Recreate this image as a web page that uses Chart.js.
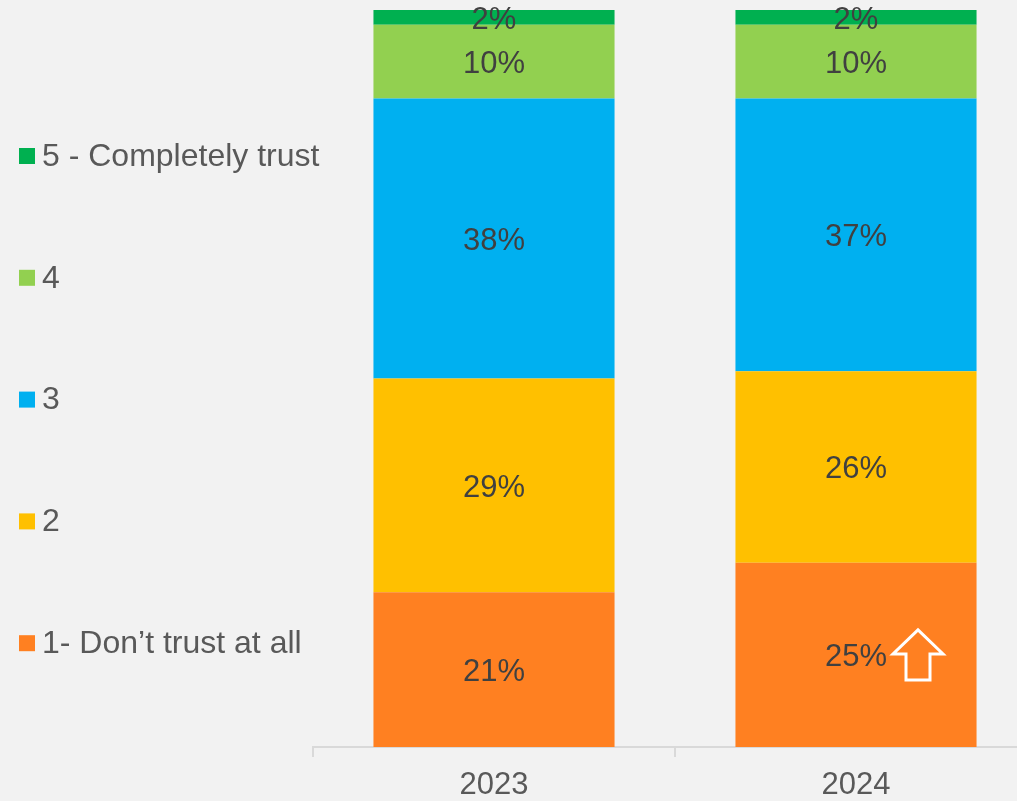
<!DOCTYPE html>
<html>
<head>
<meta charset="utf-8">
<script src="https://cdn.jsdelivr.net/npm/chart.js@4/dist/chart.umd.min.js"></script>
<style>
  html, body { margin: 0; padding: 0; background: #f2f2f2; overflow: hidden; }
  #myChart { display: block; }
</style>
</head>
<body>
<canvas id="myChart" width="1040" height="801"></canvas>
<script>
// data
const years = ['2023', '2024'];
const trustLabels = ['1- Don\u2019t trust at all', '2', '3', '4', '5 - Completely trust'];
const trust1 = [21, 25];
const trust2 = [29, 26];
const trust3 = [38, 37];
const trust4 = [10, 10];
const trust5 = [2, 2];
const trustColors = ['#ff8021', '#ffc000', '#00b0f0', '#92d050', '#00b050'];

const fontFamily = '"Liberation Sans", Arial, sans-serif';

// value labels in the middle of each segment
const segmentLabels = {
  id: 'segmentLabels',
  afterDatasetsDraw(chart) {
    const ctx = chart.ctx;
    ctx.save();
    ctx.font = '31px ' + fontFamily;
    ctx.fillStyle = '#404040';
    ctx.textAlign = 'center';
    ctx.textBaseline = 'middle';
    chart.data.datasets.forEach(function(ds, i) {
      chart.getDatasetMeta(i).data.forEach(function(bar, j) {
        const mid = (bar.y + bar.base) / 2;
        ctx.fillText(ds.data[j] + '%', bar.x, mid + 3);
      });
    });
    // white outlined up arrow next to the 2024 "1" value
    const b = chart.getDatasetMeta(0).data[1];
    const cx = b.x + 62;
    const cy = (b.y + b.base) / 2 + 1;
    ctx.strokeStyle = '#ffffff';
    ctx.lineWidth = 3;
    ctx.beginPath();
    ctx.moveTo(cx, cy - 26);
    ctx.lineTo(cx + 25, cy - 2);
    ctx.lineTo(cx + 12, cy - 2);
    ctx.lineTo(cx + 12, cy + 24);
    ctx.lineTo(cx - 12, cy + 24);
    ctx.lineTo(cx - 12, cy - 2);
    ctx.lineTo(cx - 25, cy - 2);
    ctx.closePath();
    ctx.stroke();
    ctx.restore();
  }
};

// legend on the left, top item is the last dataset
const sideLegend = {
  id: 'sideLegend',
  afterDraw(chart) {
    const ctx = chart.ctx;
    ctx.save();
    ctx.font = '32px ' + fontFamily;
    ctx.textBaseline = 'middle';
    ctx.textAlign = 'left';
    const n = chart.data.datasets.length;
    for (let k = 0; k < n; k++) {
      const ds = chart.data.datasets[n - 1 - k];
      const y = 156 + k * 121.8;
      ctx.fillStyle = ds.backgroundColor;
      ctx.fillRect(19, y - 8, 16, 16);
      ctx.fillStyle = '#595959';
      ctx.fillText(ds.label, 42, y + 1);
    }
    ctx.restore();
  }
};

const series = [trust1, trust2, trust3, trust4, trust5];

const ctx = document.getElementById('myChart');
const myChart = new Chart(ctx, {
  type: 'bar',
  data: {
    labels: years,
    datasets: series.map(function(vals, i) {
      return {
        label: trustLabels[i],
        data: vals,
        backgroundColor: trustColors[i],
        borderWidth: 0,
        categoryPercentage: 1,
        barPercentage: 0.666
      };
    })
  },
  options: {
    responsive: false,
    animation: false,
    layout: { padding: { left: 313, right: 3, top: 10, bottom: 0 } },
    plugins: {
      legend: { display: false },
      tooltip: { enabled: false }
    },
    scales: {
      x: {
        stacked: true,
        afterFit: function(scale) { scale.height = 54; },
        grid: {
          display: true,
          drawOnChartArea: false,
          drawTicks: true,
          tickLength: 10,
          color: '#d9d9d9',
          lineWidth: 2
        },
        border: { display: true, color: '#d9d9d9', width: 2 },
        ticks: {
          color: '#595959',
          font: { family: fontFamily, size: 31 },
          padding: 10
        }
      },
      y: {
        stacked: true,
        display: false,
        min: 0,
        max: 100
      }
    }
  },
  plugins: [segmentLabels, sideLegend]
});
</script>
</body>
</html>
